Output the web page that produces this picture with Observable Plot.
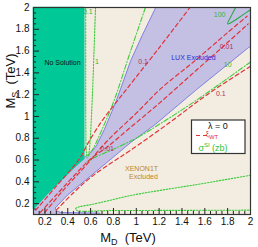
<!DOCTYPE html>
<html><head><meta charset="utf-8">
<script src="https://cdn.jsdelivr.net/npm/d3@7"></script>
<script src="https://cdn.jsdelivr.net/npm/@observablehq/plot@0.6"></script>
<style>body{margin:0;background:#fff;} svg{font-family:"Liberation Sans",Arial,sans-serif;}</style>
</head><body><div id="chart"></div>
<script>
// ---- data (TeV) ----
const xTicks = [0.2,0.4,0.6,0.8,1,1.2,1.4,1.6,1.8,2];
const yTicks = [0.2,0.4,0.6,0.8,1,1.2,1.4,1.6,1.8,2];
const minorTicks = [0.15,0.25,0.3,0.35,0.45,0.5,0.55,0.65,0.7,0.75,0.85,0.9,0.95,1.05,1.1,1.15,1.25,1.3,1.35,1.45,1.5,1.55,1.65,1.7,1.75,1.85,1.9,1.95];

// regions
const noSolution = [[0.1,2.0],[0.54,2.0],[0.54,0.615],[0.45,0.53],[0.3,0.375],[0.2,0.27],[0.1,0.155],[0.1,2.0]];
const luxExcluded = [[1.17,2.0],[1.05,1.74],[0.95,1.51],[0.82,1.13],[0.72,0.88],[0.65,0.73],[0.6,0.665],[0.55,0.63],[0.3,0.39],[0.1,0.18],[0.1,0.1],[0.68,0.1],[0.68,0.113],[0.34,0.118],[0.3,0.135],[0.29,0.16],[0.4,0.28],[0.55,0.41],[0.7,0.54],[0.82,0.645],[0.95,0.76],[1.17,0.93],[1.52,1.24],[1.98,1.63],[2.0,1.64],[2.0,2.0],[1.17,2.0]];

// xi_WT contours (red dashed)
const xiA = [[0.12,0.14],[0.3,0.36],[0.45,0.54],[0.52,0.64],[0.58,0.76],[0.7,0.96],[0.84,1.15],[0.93,1.27],[1.2,1.63],[1.47,2.0]];
const xiB = [[0.16,0.12],[0.3,0.28],[0.45,0.45],[0.6,0.61],[0.745,0.72],[0.95,0.9],[1.2,1.12],[1.5,1.4],[1.79,1.67],[1.98,1.85]];
const xiC = [[0.2,0.12],[0.35,0.31],[0.55,0.54],[0.75,0.78],[1.0,1.03],[1.22,1.26],[1.5,1.5],[1.8,1.77],[1.97,1.92]];
const xiD = [[0.3,0.14],[0.45,0.3],[0.6,0.44],[0.79,0.58],[0.95,0.69],[1.28,0.935],[1.62,1.2],[2.0,1.46]];
const xiLabelX = [1.06,1.79,0.745,1.74];
const xiLabelY = [1.5,1.64,0.70,1.21];
const xiLabelText = ["0.1","0.01","0.01","0.1"];

// sigma_SI contours (green)
const sig01 = [[0.557,2.0],[0.557,1.4],[0.558,0.9],[0.562,0.68],[0.57,0.62]];
const sig1 = [[0.643,2.0],[0.63,1.6],[0.614,1.15],[0.6,0.85],[0.59,0.7],[0.58,0.63]];
const sigUpper = [[1.08,2.0],[0.95,1.6],[0.8,1.13],[0.7,0.88],[0.63,0.72],[0.58,0.64]];
const sig10 = [[2.0,1.5],[1.8,1.35],[1.5,1.13],[1.22,0.94],[1.0,0.8],[0.8,0.7],[0.63,0.62],[0.57,0.58]];
const sig100 = [[1.87,2.0],[1.83,1.92],[1.8,1.85],[1.86,1.88],[1.93,1.93],[2.0,1.98]];
const sigBottom = [[2.0,0.46],[1.5,0.37],[1.2,0.32],[0.93,0.27],[0.75,0.225],[0.6,0.19],[0.5,0.17],[0.47,0.155],[0.48,0.138],[0.8,0.137],[1.4,0.138],[2.0,0.14]];
const sigLabelX = [0.575,0.655,1.8,1.73];
const sigLabelY = [1.96,1.5,1.47,1.93];
const sigLabelText = ["0.1","1","10","100"];

const regionLabelX = [0.354,1.5,1.046,1.063];
const regionLabelY = [1.49,1.54,0.52,0.443];
const regionLabelText = ["No Solution","LUX Excluded","XENON1T","Excluded"];
const regionLabelColor = ["#111","#2b2bd6","#b8862e","#b8862e"];

// ---- build ----
const fmt = d => String(+d.toFixed(1));
const px = d => d[0], py = d => d[1];
const red = "#e2323a", green = "#3ccc3c";
const xiLabels = xiLabelX.map((x,i)=>({x, y: xiLabelY[i], t: xiLabelText[i]}));
const sigLabels = sigLabelX.map((x,i)=>({x, y: sigLabelY[i], t: sigLabelText[i]}));
const regLabels = regionLabelX.map((x,i)=>({x, y: regionLabelY[i], t: regionLabelText[i], c: regionLabelColor[i]}));

const redLine = d => Plot.line(d, {x: px, y: py, stroke: red, strokeWidth: 1.2, strokeDasharray: "4,3", curve: "catmull-rom"});
const greenLine = (d, dash) => Plot.line(d, {x: px, y: py, stroke: green, strokeWidth: 1.1, strokeDasharray: dash, curve: "catmull-rom"});

const svg = Plot.plot({
  width: 258, height: 247,
  marginLeft: 33, marginRight: 8, marginTop: 7, marginBottom: 33,
  style: {fontFamily: '"Liberation Sans", Arial, sans-serif', fontSize: "10px", background: "#fff"},
  x: {domain: [0.1, 2]},
  y: {domain: [0.1, 2]},
  marks: [
    Plot.frame({fill: "#f3ede1"}),
    Plot.line(luxExcluded, {x: px, y: py, fill: "#c3c0e3", stroke: "#6a6ae0", strokeWidth: 0.8}),
    Plot.line(noSolution, {x: px, y: py, fill: "#00c896", stroke: "#00c896"}),
    greenLine(sigBottom, "1.5,1.5"),
    greenLine(sig01, "1.5,1.5"),
    greenLine(sig1, "1.5,1.5"),
    greenLine(sigUpper, "5,2,1,2"),
    greenLine(sig10, "5,2,1,2"),
    Plot.line(sig100, {x: px, y: py, stroke: "#2aa84a", strokeWidth: 1.1, curve: "catmull-rom"}),
    redLine(xiA), redLine(xiB), redLine(xiC), redLine(xiD),
    Plot.text(xiLabels, {x: "x", y: "y", text: "t", fill: "#b3325c", fontSize: 7}),
    Plot.text(sigLabels, {x: "x", y: "y", text: "t", fill: "#36b436", fontSize: 7}),
    Plot.text(regLabels, {x: "x", y: "y", text: "t", fill: "c", fontSize: 7}),
    Plot.ruleX(xTicks, {x: d => d, y1: 0.1, y2: 0.155, stroke: "#222"}),
    Plot.ruleX(minorTicks, {x: d => d, y1: 0.1, y2: 0.128, stroke: "#222"}),
    Plot.ruleY(yTicks, {y: d => d, x1: 0.1, x2: 0.153, stroke: "#222"}),
    Plot.ruleY(minorTicks, {y: d => d, x1: 0.1, x2: 0.127, stroke: "#222"}),
    Plot.axisX({ticks: xTicks, tickSize: 0, tickPadding: 3, tickFormat: fmt, label: null, fill: "#111"}),
    Plot.axisY({ticks: yTicks, tickSize: 0, tickPadding: 4, tickFormat: fmt, label: null, fill: "#111"}),
    Plot.frame({stroke: "#333", strokeWidth: 1.2})
  ]
});
document.getElementById("chart").appendChild(svg);

// axis titles & legend (text with sub/superscripts)
const s = d3.select(svg);
const yt = s.append("text").attr("transform", "translate(15,81) rotate(-90)")
  .attr("text-anchor", "middle").attr("font-size", 13).attr("fill", "#111");
yt.append("tspan").text("M");
yt.append("tspan").attr("font-size", 9).attr("dy", 3).text("S");
yt.append("tspan").attr("dy", -3).text("  (TeV)");
const xt = s.append("text").attr("x", 128).attr("y", 242).attr("font-size", 13).attr("fill", "#111");
xt.append("tspan").text("M");
xt.append("tspan").attr("font-size", 9).attr("dy", 3).text("D");
xt.append("tspan").attr("dy", -3).text("  (TeV)");

const lg = s.append("g");
lg.append("rect").attr("x", 191.5).attr("y", 120).attr("width", 53.5).attr("height", 33.5)
  .attr("fill", "#fff").attr("stroke", "#333").attr("stroke-width", 1.2);
lg.append("text").attr("x", 218).attr("y", 128.5).attr("text-anchor", "middle").attr("font-size", 9).attr("fill", "#111").text("λ = 0");
lg.append("line").attr("x1", 196).attr("x2", 208).attr("y1", 135.5).attr("y2", 135.5)
  .attr("stroke", red).attr("stroke-width", 1.2).attr("stroke-dasharray", "4,3");
const xl = lg.append("text").attr("x", 212).attr("y", 136).attr("font-size", 7).attr("fill", red);
xl.append("tspan").text("ξ");
xl.append("tspan").attr("font-size", 6).attr("dy", 2.5).text("WT");
const sl = lg.append("text").attr("x", 213).attr("y", 151).attr("font-size", 9).attr("fill", "#33c233");
sl.append("tspan").text("σ");
sl.append("tspan").attr("font-size", 6).attr("dy", -4).text("SI");
sl.append("tspan").attr("dy", 4).text(" (zb)");
</script></body></html>
